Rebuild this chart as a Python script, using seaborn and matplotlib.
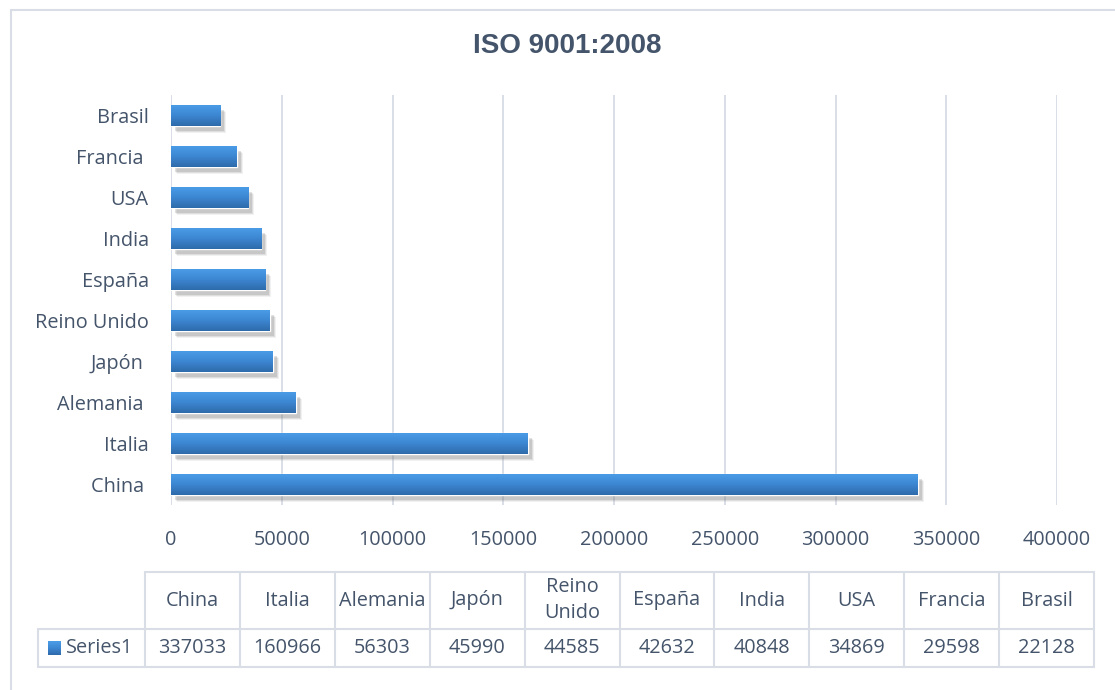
import numpy as np
import pandas as pd
import matplotlib
matplotlib.use("Agg")
import matplotlib.pyplot as plt
import matplotlib.transforms as mtransforms
from matplotlib.patches import Rectangle
from matplotlib.lines import Line2D
from matplotlib.colors import LinearSegmentedColormap
import seaborn as sns

# ---- data ----
categories = ["China", "Italia", "Alemania", "Japón", "Reino Unido",
              "España", "India", "USA", "Francia", "Brasil"]
axis_labels = ["China ", "Italia", "Alemania ", "Japón ", "Reino Unido",
               "España", "India", "USA", "Francia ", "Brasil"]
values = [337033, 160966, 56303, 45990, 44585, 42632, 40848, 34869, 29598, 22128]
series_name = "Series1"
title = "ISO 9001:2008"
x_ticks = [0, 50000, 100000, 150000, 200000, 250000, 300000, 350000, 400000]
table_header = ["China", "Italia", "Alemania", "Japón", "Reino\nUnido",
                "España", "India", "USA", "Francia", "Brasil"]

TXT = "#44546A"
GRID = "#D9DEE6"
FONT = ["Open Sans", "DejaVu Sans"]
FS = 14.3

sns.set_theme(style="white")
plt.rcParams["font.family"] = FONT

W, H = 1115, 690
fig = plt.figure(figsize=(W / 100, H / 100), dpi=100)

def fx(px):
    return px / W

def fy(py):
    return 1 - py / H

ax = fig.add_axes([fx(171), fy(505), fx(1057) - fx(171), (505 - 95) / H])

df = pd.DataFrame({"cat": axis_labels, "val": values})
order = axis_labels[::-1]
sns.barplot(data=df, x="val", y="cat", order=order, orient="h",
            color="#3D86D0", width=0.52, ax=ax, zorder=3, saturation=1)

ax.set_xlim(0, 400000)
ax.set_ylim(len(order) - 0.5, -0.5)
ax.set_xticks(x_ticks)
ax.set_xticklabels([str(t) for t in x_ticks])
for s in ax.spines.values():
    s.set_visible(False)
ax.grid(axis="x", color=GRID, linewidth=1.4, zorder=0)
ax.grid(axis="y", visible=False)
ax.set_xlabel("")
ax.set_ylabel("")
ax.tick_params(axis="both", length=0, labelsize=FS, colors=TXT)
ax.tick_params(axis="x", pad=18)
ax.tick_params(axis="y", pad=16)

# gradient + shadow on each seaborn bar
cmap = LinearSegmentedColormap.from_list("bar", ["#4B9DE8", "#3D87D2", "#2E6BAB"])
grad = np.linspace(0, 1, 64).reshape(-1, 1)
for p in list(ax.patches):
    x0, y0, w, h = p.get_x(), p.get_y(), p.get_width(), p.get_height()
    for i, (dx, dy, a) in enumerate([(6, -7, 0.10), (5, -6, 0.16), (4, -5, 0.24)]):
        off = mtransforms.ScaledTranslation(dx / 100, dy / 100, fig.dpi_scale_trans)
        sh = Rectangle((x0, y0), w, h, transform=ax.transData + off,
                       facecolor="#7F7F7F", edgecolor="none", alpha=a, zorder=2)
        ax.add_patch(sh)
    im = ax.imshow(grad, extent=(x0, x0 + w, y0 + h, y0), origin="upper",
                   cmap=cmap, aspect="auto", zorder=4, interpolation="bilinear")
    im.set_clip_path(p)

ax.set_xlim(0, 400000)
ax.set_ylim(len(order) - 0.5, -0.5)

# title
fig.text(fx(567), fy(46), title, ha="center", va="center",
         fontsize=20, fontweight="bold", color=TXT,
         family=["Liberation Sans", "DejaVu Sans"])

# outer chart border
fig.add_artist(Line2D([fx(11), fx(11)], [fy(10), fy(700)], color=GRID, lw=1.5))
fig.add_artist(Line2D([fx(11), fx(1120)], [fy(10), fy(10)], color=GRID, lw=1.5))

# data table
col_left, col_w = 145, 94.9
t_top, t_mid, t_bot = 572, 629, 667
row_left = 38
n = len(categories)
t_right = col_left + n * col_w
tl = dict(color=GRID, lw=1.5)
fig.add_artist(Line2D([fx(col_left), fx(t_right)], [fy(t_top), fy(t_top)], **tl))
fig.add_artist(Line2D([fx(row_left), fx(t_right)], [fy(t_mid), fy(t_mid)], **tl))
fig.add_artist(Line2D([fx(row_left), fx(t_right)], [fy(t_bot), fy(t_bot)], **tl))
fig.add_artist(Line2D([fx(row_left), fx(row_left)], [fy(t_mid), fy(t_bot)], **tl))
for i in range(n + 1):
    xx = col_left + i * col_w
    fig.add_artist(Line2D([fx(xx), fx(xx)], [fy(t_top), fy(t_bot)], **tl))
for i, (hd, v) in enumerate(zip(table_header, values)):
    cx = col_left + (i + 0.5) * col_w
    fig.text(fx(cx), fy((t_top + t_mid) / 2), hd, ha="center", va="center",
             fontsize=FS, color=TXT, linespacing=1.4)
    fig.text(fx(cx), fy((t_mid + t_bot) / 2), str(v), ha="center", va="center",
             fontsize=FS, color=TXT)

# legend key in table
key_ax = fig.add_axes([fx(48), fy(655), fx(61) - fx(48), (655 - 641) / H])
key_ax.imshow(grad, cmap=cmap, aspect="auto", extent=(0, 1, 1, 0), origin="upper")
key_ax.set_axis_off()
fig.text(fx(66), fy((t_mid + t_bot) / 2), series_name, ha="left", va="center",
         fontsize=FS, color=TXT)

fig.savefig("out.png", dpi=100, facecolor="white")
